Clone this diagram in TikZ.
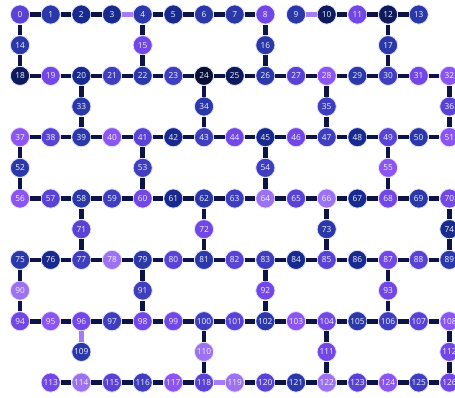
\documentclass[tikz,border=0pt]{standalone}
\usepackage{fontspec}
\setmainfont{Open Sans}
\definecolor{nvA}{HTML}{0A1034}
\definecolor{nvB}{HTML}{0E1A5C}
\definecolor{nvC}{HTML}{182A8E}
\definecolor{blu}{HTML}{2A38A8}
\definecolor{ind}{HTML}{3E3EBF}
\definecolor{ivi}{HTML}{5A42D4}
\definecolor{vio}{HTML}{7347E6}
\definecolor{lvi}{HTML}{8C55F1}
\definecolor{lav}{HTML}{9C72F0}
\definecolor{edgedark}{HTML}{0B1443}
\definecolor{edgelight}{HTML}{A57CF5}
\definecolor{txt}{HTML}{F0F0FF}
\tikzset{
  qubit/.style={circle, minimum size=19.2pt, inner sep=0pt, draw=white!90!blue, line width=0.8pt,
    text=txt, font=\fontsize{8.3}{9}\selectfont},
  link/.style={draw=edgedark, line width=4.6pt},
  linklight/.style={draw=edgelight, line width=4.6pt}
}
\begin{document}
\begin{tikzpicture}[x=1pt,y=-1pt]
\useasboundingbox (0,0) rectangle (455,397);
\foreach \id/\c/\r/\col in {
0/0/0/ivi,1/1/0/blu,2/2/0/nvC,3/3/0/nvC,4/4/0/blu,5/5/0/nvC,6/6/0/blu,7/7/0/blu,8/8/0/vio,9/9/0/blu,10/10/0/nvB,11/11/0/vio,12/12/0/nvB,13/13/0/blu,
14/0/1/blu,15/4/1/vio,16/8/1/blu,17/12/1/blu,
18/0/2/nvB,19/1/2/vio,20/2/2/nvC,21/3/2/ind,22/4/2/blu,23/5/2/ind,24/6/2/nvA,25/7/2/nvB,26/8/2/blu,27/9/2/ivi,28/10/2/lvi,29/11/2/blu,30/12/2/ind,31/13/2/vio,32/14/2/lvi,
33/2/3/blu,34/6/3/blu,35/10/3/ind,36/14/3/ivi,
37/0/4/lvi,38/1/4/ivi,39/2/4/blu,40/3/4/lvi,41/4/4/ivi,42/5/4/nvC,43/6/4/ind,44/7/4/vio,45/8/4/nvC,46/9/4/vio,47/10/4/ind,48/11/4/nvC,49/12/4/ivi,50/13/4/blu,51/14/4/lvi,
52/0/5/blu,53/4/5/ind,54/8/5/ind,55/12/5/lvi,
56/0/6/lvi,57/1/6/ivi,58/2/6/blu,59/3/6/ind,60/4/6/vio,61/5/6/nvC,62/6/6/blu,63/7/6/ind,64/8/6/lav,65/9/6/ivi,66/10/6/lav,67/11/6/nvC,68/12/6/vio,69/13/6/blu,70/14/6/vio,
71/2/7/ivi,72/6/7/vio,73/10/7/blu,74/14/7/nvC,
75/0/8/blu,76/1/8/nvC,77/2/8/ind,78/3/8/lav,79/4/8/blu,80/5/8/ivi,81/6/8/blu,82/7/8/ivi,83/8/8/ind,84/9/8/nvC,85/10/8/ivi,86/11/8/nvC,87/12/8/vio,88/13/8/ivi,89/14/8/blu,
90/0/9/lav,91/4/9/ind,92/8/9/vio,93/12/9/vio,
94/0/10/vio,95/1/10/lvi,96/2/10/vio,97/3/10/ind,98/4/10/vio,99/5/10/vio,100/6/10/ind,101/7/10/ivi,102/8/10/blu,103/9/10/lvi,104/10/10/vio,105/11/10/blu,106/12/10/ind,107/13/10/ivi,108/14/10/lvi,
109/2/11/blu,110/6/11/lav,111/10/11/vio,112/14/11/vio,
113/1/12/vio,114/2/12/lav,115/3/12/ivi,116/4/12/ind,117/5/12/lvi,118/6/12/ivi,119/7/12/lav,120/8/12/ivi,121/9/12/blu,122/10/12/lav,123/11/12/ivi,124/12/12/lvi,125/13/12/ind,126/14/12/vio}
  \node[qubit, fill=\col] (q\id) at ({20+30.67*\c},{14.5+30.67*\r}) {\id};
\foreach \a/\b in {0/1,1/2,2/3,4/5,5/6,6/7,7/8,10/11,11/12,12/13,
18/19,19/20,20/21,21/22,22/23,23/24,24/25,25/26,26/27,27/28,28/29,29/30,30/31,31/32,
37/38,38/39,39/40,40/41,41/42,42/43,43/44,44/45,45/46,46/47,47/48,48/49,49/50,50/51,
56/57,57/58,58/59,59/60,60/61,61/62,62/63,63/64,64/65,65/66,66/67,67/68,68/69,69/70,
75/76,76/77,77/78,78/79,79/80,80/81,81/82,82/83,83/84,84/85,85/86,86/87,87/88,88/89,
94/95,95/96,96/97,97/98,98/99,99/100,100/101,101/102,102/103,103/104,104/105,105/106,106/107,107/108,
113/114,114/115,115/116,116/117,117/118,119/120,120/121,121/122,122/123,123/124,124/125,125/126,
0/14,14/18,4/15,15/22,8/16,16/26,12/17,17/30,
20/33,33/39,24/34,34/43,28/35,35/47,32/36,36/51,
37/52,52/56,41/53,53/60,45/54,54/64,49/55,55/68,
58/71,71/77,62/72,72/81,66/73,73/85,70/74,74/89,
75/90,90/94,79/91,91/98,83/92,92/102,87/93,93/106,
100/110,110/118,104/111,111/122,108/112,112/126}
  \draw[link] (q\a) -- (q\b);
\foreach \a/\b in {3/4,9/10,96/109,118/119}
  \draw[linklight] (q\a) -- (q\b);
\end{tikzpicture}
\end{document}
